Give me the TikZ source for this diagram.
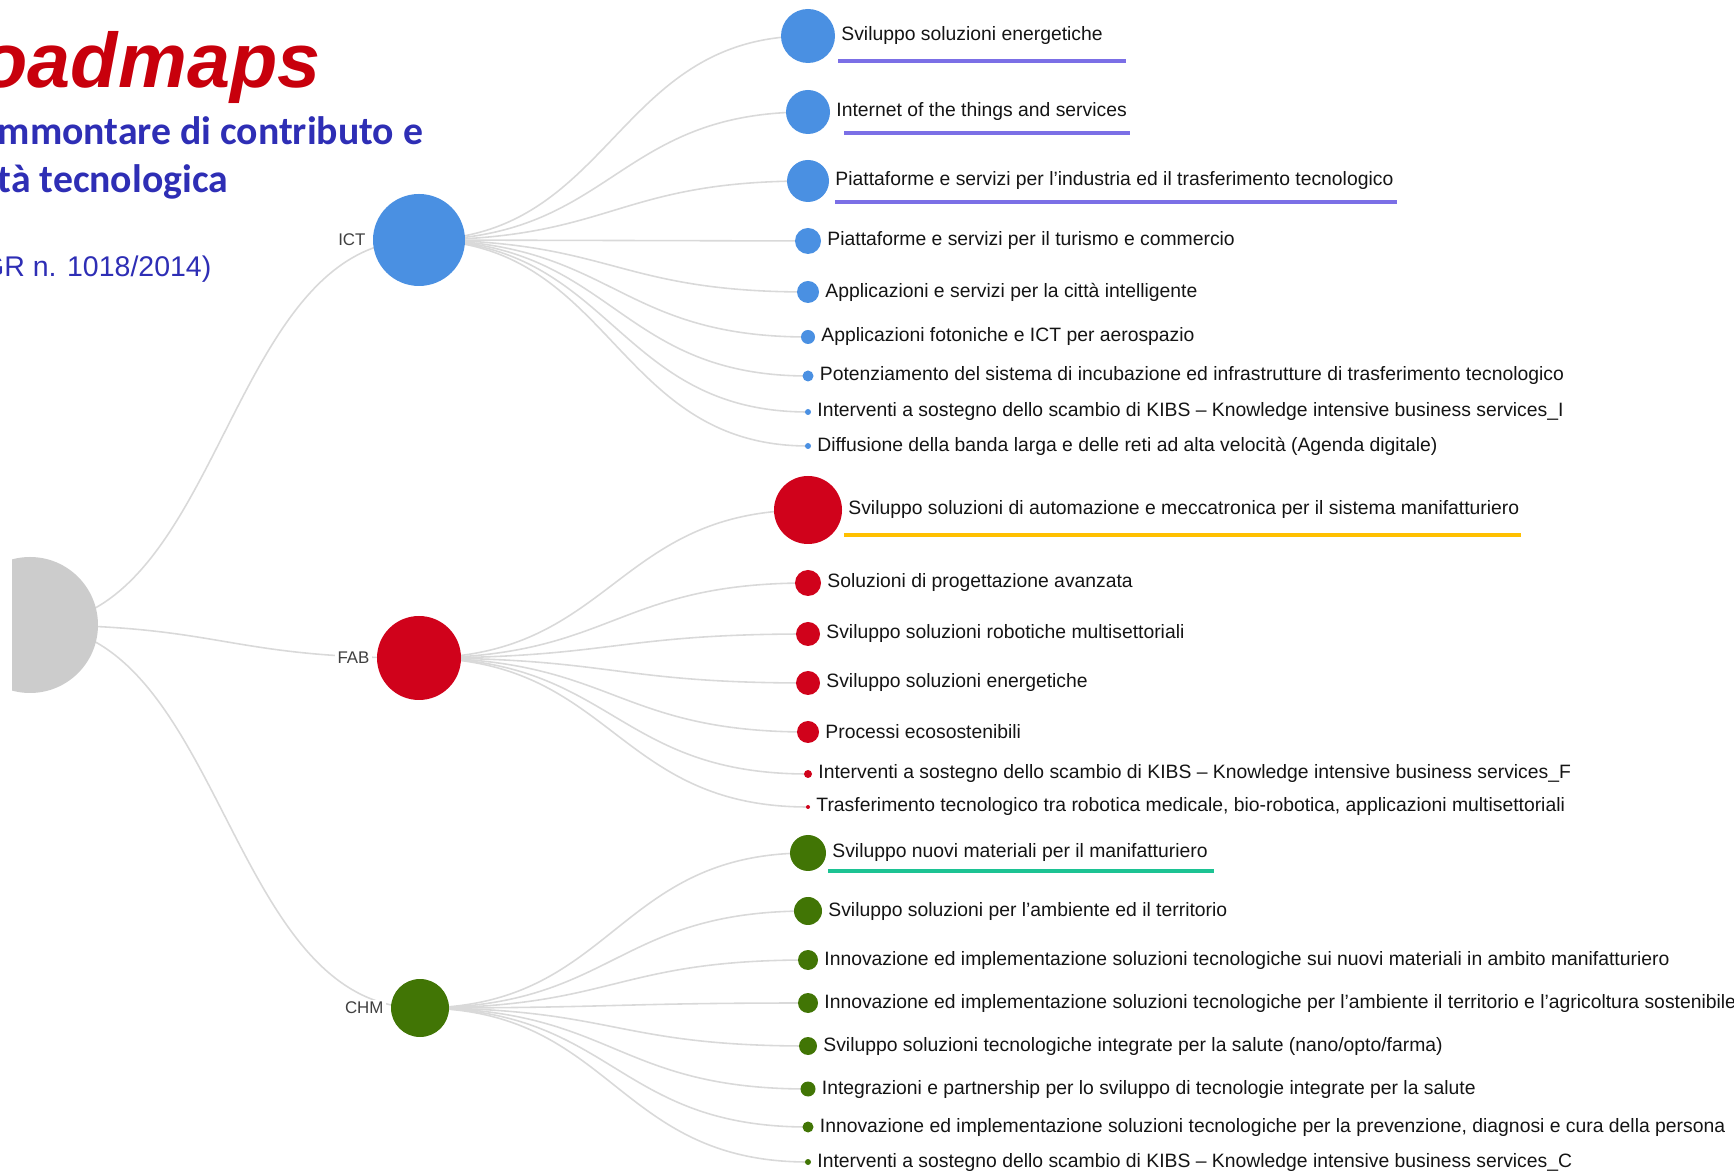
\documentclass[tikz,border=0pt]{standalone}
\usepackage{fontspec}
\setmainfont{Liberation Sans}
\newfontfamily\subfont{Carlito}
\usetikzlibrary{positioning,backgrounds}

\definecolor{ictblue}{HTML}{4A90E2}
\definecolor{fabred}{HTML}{D0021B}
\definecolor{chmgreen}{HTML}{417505}
\definecolor{rootgray}{HTML}{CCCCCC}
\definecolor{linkgray}{HTML}{D9D9D9}
\definecolor{titlered}{HTML}{C8000C}
\definecolor{titleblue}{HTML}{2E2EB5}
\definecolor{ulviolet}{HTML}{7B6FE6}
\definecolor{ulgold}{HTML}{FFC000}
\definecolor{ulteal}{HTML}{1CC393}

\tikzset{
  bubble/.style={circle, inner sep=0pt, minimum size=#1*0.01cm},
  leaftext/.style={inner sep=0pt, text=black!92, font=\fontsize{5.5}{6}\selectfont, right=0.05cm of #1},
  cat/.style={inner sep=0.6pt, fill=white, text=black!75, font=\fontsize{4.8}{5.5}\selectfont, left=0.04cm of #1},
  link/.style={draw=linkgray, line width=0.45pt},
  uline/.style={draw=#1, line width=1.1pt}
}

\begin{document}
\begin{tikzpicture}[x=0.01cm, y=-0.01cm]
\useasboundingbox (0,0) rectangle (1734,1171);

% Heading
\node[anchor=base west, inner sep=0pt, text=titlered, font=\fontsize{22}{24}\selectfont\bfseries\itshape] (title) at (-20,88) {oadmaps};
\node[anchor=base west, inner sep=0pt, text=titleblue, font=\subfont\fontsize{11.3}{13}\selectfont\bfseries] (sub1) at (-3,145) {mmontare di contributo e};
\node[anchor=base west, inner sep=0pt, text=titleblue, font=\subfont\fontsize{11.3}{13}\selectfont\bfseries] (sub2) at (-3,193) {tà tecnologica};
\node[anchor=base east, inner sep=0pt, text=titleblue, font=\fontsize{8.1}{9}\selectfont] (dgr) at (212,277) {GR n. 1018/2014)};

% Root
\begin{scope}
\clip (12,500) rectangle (200,750);
\node[bubble=136, fill=rootgray] (root) at (30,625) {};
\end{scope}

% Categories
\node[bubble=92, fill=ictblue] (ict) at (419,240) {};
\node[bubble=84, fill=fabred] (fab) at (419,658) {};
\node[bubble=58, fill=chmgreen] (chm) at (420,1008) {};
\node[cat=ict] (ict-l) {ICT};
\node[cat=fab] (fab-l) {FAB};
\node[cat=chm] (chm-l) {CHM};
\begin{scope}[on background layer]
\foreach \c in {ict,fab,chm}
  \draw[link] (root.center) .. controls +(194,0) and +(-194,0) .. (\c.center);
\end{scope}

% ICT leaves
\foreach \n/\y/\r/\t in {
  i1/36/27/{Sviluppo soluzioni energetiche},
  i2/112/22/{Internet of the things and services},
  i3/181/21/{Piattaforme e servizi per l'industria ed il trasferimento tecnologico},
  i4/241/13/{Piattaforme e servizi per il turismo e commercio},
  i5/292/11/{Applicazioni e servizi per la città intelligente},
  i6/337/7/{Applicazioni fotoniche e ICT per aerospazio},
  i7/376/5.5/{Potenziamento del sistema di incubazione ed infrastrutture di trasferimento tecnologico},
  i8/412/3/{Interventi a sostegno dello scambio di KIBS – Knowledge intensive business services\_I},
  i9/446/3/{Diffusione della banda larga e delle reti ad alta velocità (Agenda digitale)}} {
  \node[bubble=2*\r, fill=ictblue] (\n) at (808,\y) {};
  \node[leaftext=\n] (\n-t) {\t};
  \begin{scope}[on background layer]
  \draw[link] (ict.center) .. controls +(194,0) and +(-194,0) .. (\n.center);
  \end{scope}
}

% FAB leaves
\foreach \n/\y/\r/\t in {
  f1/510/34/{Sviluppo soluzioni di automazione e meccatronica per il sistema manifatturiero},
  f2/583/13/{Soluzioni di progettazione avanzata},
  f3/634/12/{Sviluppo soluzioni robotiche multisettoriali},
  f4/683/12/{Sviluppo soluzioni energetiche},
  f5/732/11/{Processi ecosostenibili},
  f6/774/4/{Interventi a sostegno dello scambio di KIBS – Knowledge intensive business services\_F},
  f7/807/2/{Trasferimento tecnologico tra robotica medicale, bio-robotica, applicazioni multisettoriali}} {
  \node[bubble=2*\r, fill=fabred] (\n) at (808,\y) {};
  \node[leaftext=\n] (\n-t) {\t};
  \begin{scope}[on background layer]
  \draw[link] (fab.center) .. controls +(194,0) and +(-194,0) .. (\n.center);
  \end{scope}
}

% CHM leaves
\foreach \n/\y/\r/\t in {
  c1/853/18/{Sviluppo nuovi materiali per il manifatturiero},
  c2/911/14/{Sviluppo soluzioni per l'ambiente ed il territorio},
  c3/960/10/{Innovazione ed implementazione soluzioni tecnologiche sui nuovi materiali in ambito manifatturiero},
  c4/1003/10/{Innovazione ed implementazione soluzioni tecnologiche per l'ambiente il territorio e l'agricoltura sostenibile},
  c5/1046/9/{Sviluppo soluzioni tecnologiche integrate per la salute (nano/opto/farma)},
  c6/1089/7.5/{Integrazioni e partnership per lo sviluppo di tecnologie integrate per la salute},
  c7/1127/5.5/{Innovazione ed implementazione soluzioni tecnologiche per la prevenzione, diagnosi e cura della persona},
  c8/1162/3/{Interventi a sostegno dello scambio di KIBS – Knowledge intensive business services\_C}} {
  \node[bubble=2*\r, fill=chmgreen] (\n) at (808,\y) {};
  \node[leaftext=\n] (\n-t) {\t};
  \begin{scope}[on background layer]
  \draw[link] (chm.center) .. controls +(194,0) and +(-194,0) .. (\n.center);
  \end{scope}
}

% Highlights
\draw[uline=ulviolet] (838,61) -- (1126,61);
\draw[uline=ulviolet] (844,133) -- (1130,133);
\draw[uline=ulviolet] (835,202) -- (1397,202);
\draw[uline=ulgold] (844,535) -- (1521,535);
\draw[uline=ulteal] (828,871) -- (1214,871);
\end{tikzpicture}
\end{document}
